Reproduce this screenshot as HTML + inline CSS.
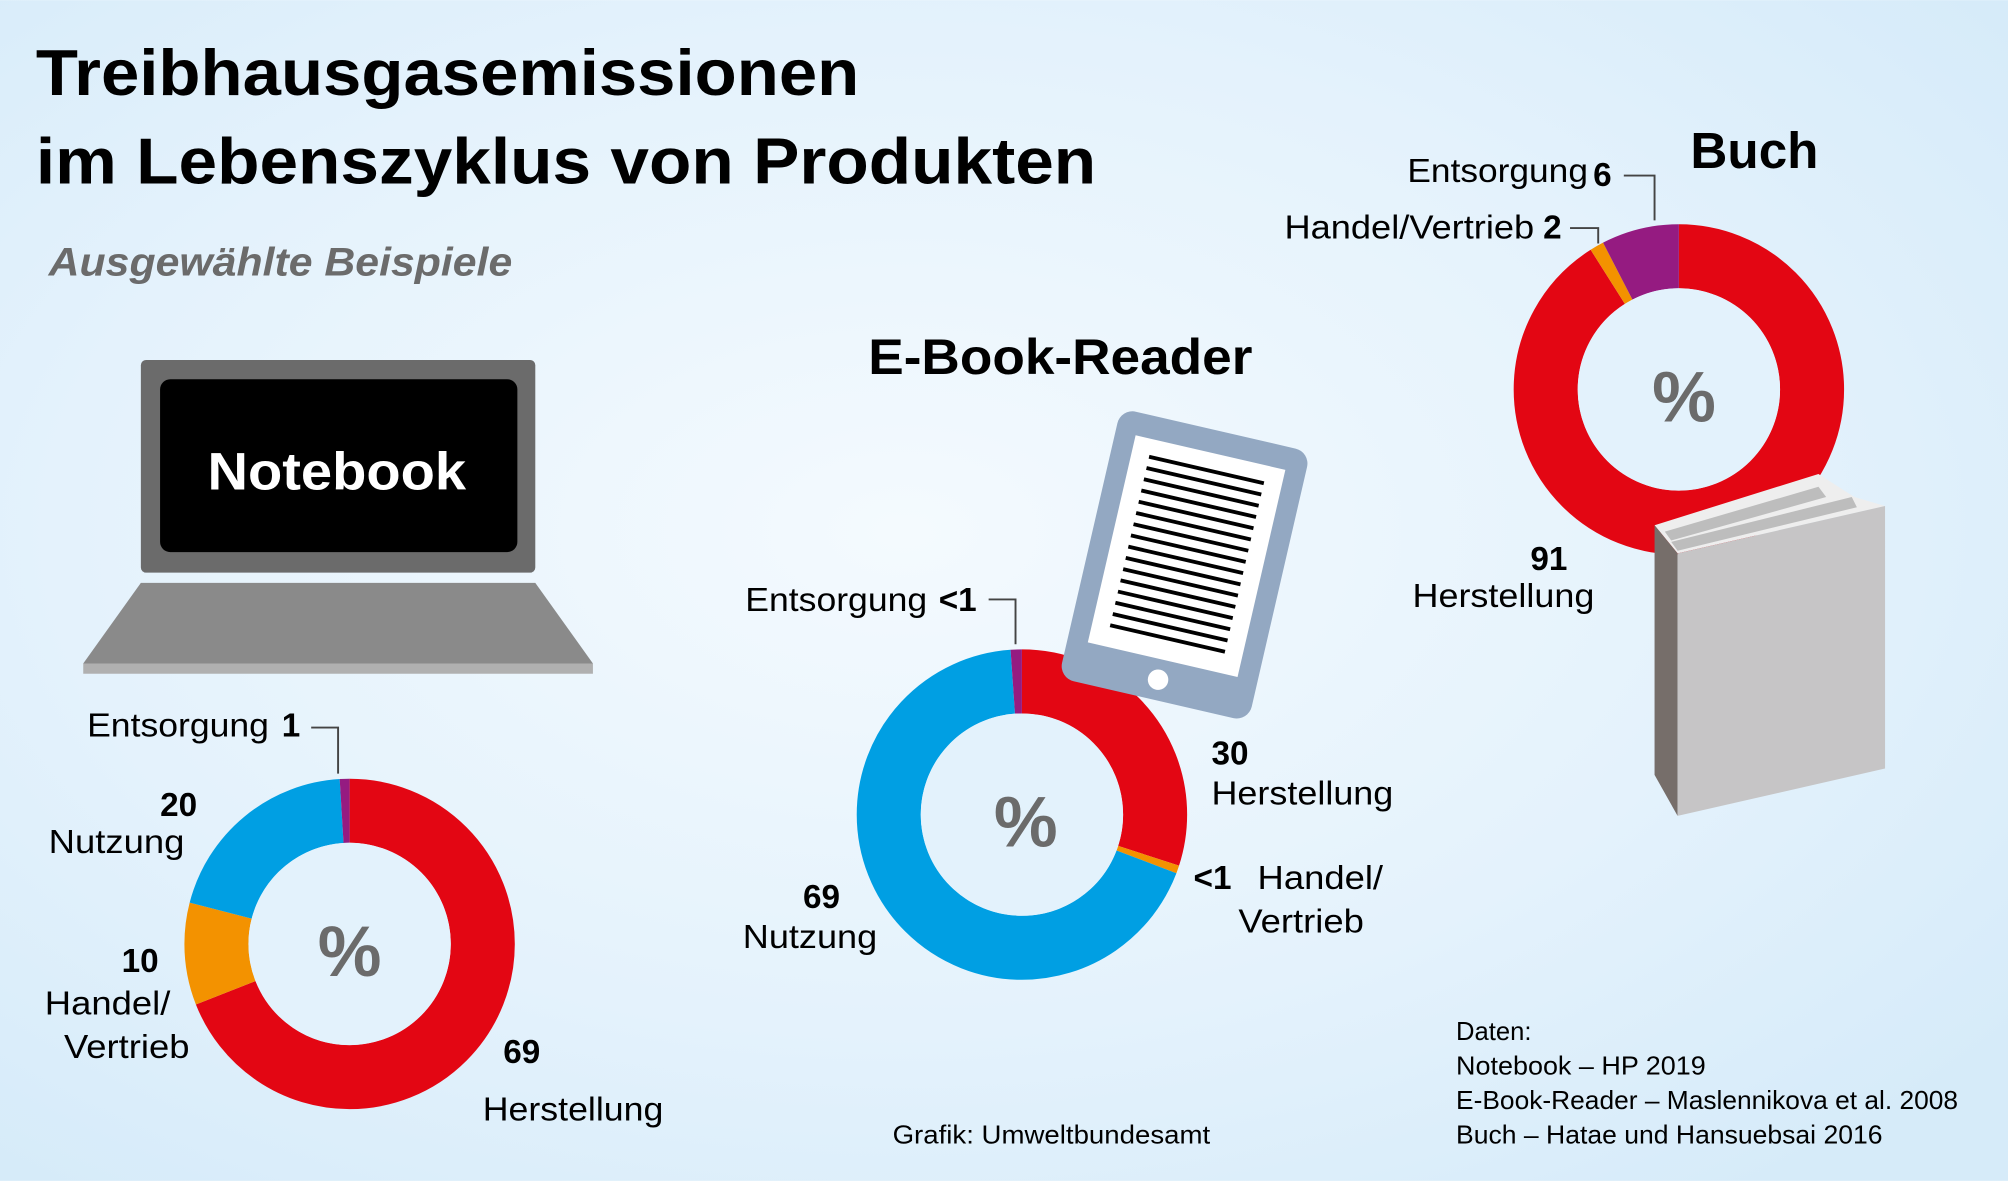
<!DOCTYPE html>
<html><head><meta charset="utf-8"><style>html,body{margin:0;padding:0;overflow:hidden}body{width:2008px;height:1181px}svg{display:block}text{font-family:"Liberation Sans",sans-serif}</style></head><body>
<svg width="2008" height="1181" viewBox="0 0 1568 922" xmlns="http://www.w3.org/2000/svg">
<defs>
<radialGradient id="bg" cx="0.45" cy="0.45" r="0.7">
<stop offset="0" stop-color="#f4fafe"/><stop offset="0.6" stop-color="#e4f2fc"/><stop offset="1" stop-color="#d6ebf9"/>
</radialGradient>
</defs>
<rect width="1568" height="922" fill="url(#bg)"/>
<text x="28" y="74" font-size="51" font-weight="bold" fill="#000" textLength="643" lengthAdjust="spacingAndGlyphs">Treibhausgasemissionen</text>
<text x="28" y="143" font-size="51" font-weight="bold" fill="#000" textLength="828" lengthAdjust="spacingAndGlyphs">im Lebenszyklus von Produkten</text>
<text x="38" y="215" font-size="31" font-weight="bold" font-style="italic" fill="#6b6b6b" textLength="362" lengthAdjust="spacingAndGlyphs">Ausgewählte Beispiele</text>

<rect x="110" y="281" width="308" height="166" rx="4" fill="#6b6b6b"/>
<rect x="125" y="296" width="279" height="135" rx="8" fill="#000"/>
<text x="162" y="382" font-size="41" font-weight="bold" fill="#fff" textLength="202" lengthAdjust="spacingAndGlyphs">Notebook</text>
<polygon points="110,455 418,455 463,518 65,518" fill="#8a8a8a"/>
<rect x="65" y="518" width="398" height="8" fill="#b0b0b0"/>

<g transform="translate(273,737) rotate(-90)">
<circle r="104" fill="none" stroke="#e30613" stroke-width="50" stroke-dasharray="450.9 1000"/>
<circle r="104" fill="none" stroke="#f39200" stroke-width="50" stroke-dasharray="0 450.9 65.3 1000"/>
<circle r="104" fill="none" stroke="#009fe3" stroke-width="50" stroke-dasharray="0 516.2 130.7 1000"/>
<circle r="104" fill="none" stroke="#951b81" stroke-width="50" stroke-dasharray="0 646.9 6.6 1000"/>
<circle r="79" fill="#e3f2fc"/>
</g>
<text x="273" y="762" font-size="56" font-weight="bold" fill="#6b6b6b" text-anchor="middle">%</text>
<g font-size="26" fill="#000">
<text x="68" y="575" textLength="142" lengthAdjust="spacingAndGlyphs">Entsorgung</text>
<text x="38" y="666" textLength="106" lengthAdjust="spacingAndGlyphs">Nutzung</text>
<text x="35" y="792" textLength="98" lengthAdjust="spacingAndGlyphs">Handel/</text>
<text x="50" y="826" textLength="98" lengthAdjust="spacingAndGlyphs">Vertrieb</text>
<text x="377" y="875" textLength="141" lengthAdjust="spacingAndGlyphs">Herstellung</text>
<text x="582" y="477" textLength="142" lengthAdjust="spacingAndGlyphs">Entsorgung</text>
<text x="946" y="628" textLength="142" lengthAdjust="spacingAndGlyphs">Herstellung</text>
<text x="982" y="694" textLength="98" lengthAdjust="spacingAndGlyphs">Handel/</text>
<text x="967" y="728" textLength="98" lengthAdjust="spacingAndGlyphs">Vertrieb</text>
<text x="580" y="740" textLength="105" lengthAdjust="spacingAndGlyphs">Nutzung</text>
<text x="1099" y="142" textLength="141" lengthAdjust="spacingAndGlyphs">Entsorgung</text>
<text x="1003" y="186" textLength="195" lengthAdjust="spacingAndGlyphs">Handel/Vertrieb</text>
<text x="1103" y="474" textLength="142" lengthAdjust="spacingAndGlyphs">Herstellung</text>
</g>
<g font-size="26" font-weight="bold" fill="#000">
<text x="220" y="575">1</text>
<text x="125" y="637">20</text>
<text x="95" y="759">10</text>
<text x="393" y="830">69</text>
<text x="733" y="477">&lt;1</text>
<text x="946" y="597">30</text>
<text x="932" y="694">&lt;1</text>
<text x="627" y="709">69</text>
<text x="1244" y="145">6</text>
<text x="1205" y="186">2</text>
<text x="1195" y="445">91</text>
</g>
<polyline points="243,568 264,568 264,604" fill="none" stroke="#444" stroke-width="1.5"/>

<text x="678" y="292" font-size="39" font-weight="bold" fill="#000" textLength="300" lengthAdjust="spacingAndGlyphs">E-Book-Reader</text>
<g transform="translate(798,636) rotate(-90)">
<circle r="104" fill="none" stroke="#e30613" stroke-width="50" stroke-dasharray="196 1000"/>
<circle r="104" fill="none" stroke="#f39200" stroke-width="50" stroke-dasharray="0 196 5 1000"/>
<circle r="104" fill="none" stroke="#009fe3" stroke-width="50" stroke-dasharray="0 201 445 1000"/>
<circle r="104" fill="none" stroke="#951b81" stroke-width="50" stroke-dasharray="0 646 7.5 1000"/>
<circle r="79" fill="#e3f2fc"/>
</g>
<text x="801" y="661" font-size="56" font-weight="bold" fill="#6b6b6b" text-anchor="middle">%</text>
<g transform="translate(925,441) rotate(13)">
<rect x="-76" y="-108" width="152" height="216" rx="12" fill="#93a8c2"/>
<rect x="-60" y="-90" width="120" height="166" fill="#fff"/>
<g stroke="#000" stroke-width="3">
<line x1="-46" y1="-76" x2="46" y2="-76"/><line x1="-46" y1="-67" x2="46" y2="-67"/><line x1="-46" y1="-58" x2="46" y2="-58"/><line x1="-46" y1="-49" x2="46" y2="-49"/><line x1="-46" y1="-40" x2="46" y2="-40"/><line x1="-46" y1="-31" x2="46" y2="-31"/><line x1="-46" y1="-22" x2="46" y2="-22"/><line x1="-46" y1="-13" x2="46" y2="-13"/><line x1="-46" y1="-4" x2="46" y2="-4"/><line x1="-46" y1="5" x2="46" y2="5"/><line x1="-46" y1="14" x2="46" y2="14"/><line x1="-46" y1="23" x2="46" y2="23"/><line x1="-46" y1="32" x2="46" y2="32"/><line x1="-46" y1="41" x2="46" y2="41"/><line x1="-46" y1="50" x2="46" y2="50"/><line x1="-46" y1="59" x2="46" y2="59"/>
</g>
<circle cx="0" cy="92" r="8" fill="#fff"/>
</g>
<polyline points="772,468 793,468 793,503" fill="none" stroke="#444" stroke-width="1.5"/>

<text x="1320" y="131" font-size="40" font-weight="bold" fill="#000" textLength="100" lengthAdjust="spacingAndGlyphs">Buch</text>
<g transform="translate(1311,304) rotate(-90)">
<circle r="104" fill="none" stroke="#e30613" stroke-width="50" stroke-dasharray="594.6 1000"/>
<circle r="104" fill="none" stroke="#f39200" stroke-width="50" stroke-dasharray="0 594.6 9 1000"/>
<circle r="104" fill="none" stroke="#951b81" stroke-width="50" stroke-dasharray="0 603.6 50 1000"/>
<circle r="79" fill="#e3f2fc"/>
</g>
<text x="1315" y="329" font-size="56" font-weight="bold" fill="#6b6b6b" text-anchor="middle">%</text>
<polyline points="1268,137 1292,137 1292,172" fill="none" stroke="#444" stroke-width="1.5"/>
<polyline points="1226,178 1248,178 1248,190" fill="none" stroke="#444" stroke-width="1.5"/>
<polygon points="1292,410 1420,370 1448,388 1472,395 1310,432" fill="#eeeeee"/>
<polygon points="1300,415 1420,380 1426,388 1305,422" fill="#bdbdbd"/>
<polygon points="1305,423 1446,388 1450,396 1310,430" fill="#bdbdbd"/>
<polygon points="1292,410 1310,432 1310,637 1292,605" fill="#766e6a"/>
<polygon points="1310,432 1472,395 1472,600 1310,637" fill="#c6c5c6"/>

<g font-size="20" fill="#000">
<text x="697" y="893" textLength="248" lengthAdjust="spacingAndGlyphs">Grafik: Umweltbundesamt</text>
<text x="1137" y="812">Daten:</text>
<text x="1137" y="839" textLength="195" lengthAdjust="spacingAndGlyphs">Notebook – HP 2019</text>
<text x="1137" y="866" textLength="392" lengthAdjust="spacingAndGlyphs">E-Book-Reader – Maslennikova et al. 2008</text>
<text x="1137" y="893" textLength="333" lengthAdjust="spacingAndGlyphs">Buch – Hatae und Hansuebsai 2016</text>
</g>
</svg>
</body></html>
